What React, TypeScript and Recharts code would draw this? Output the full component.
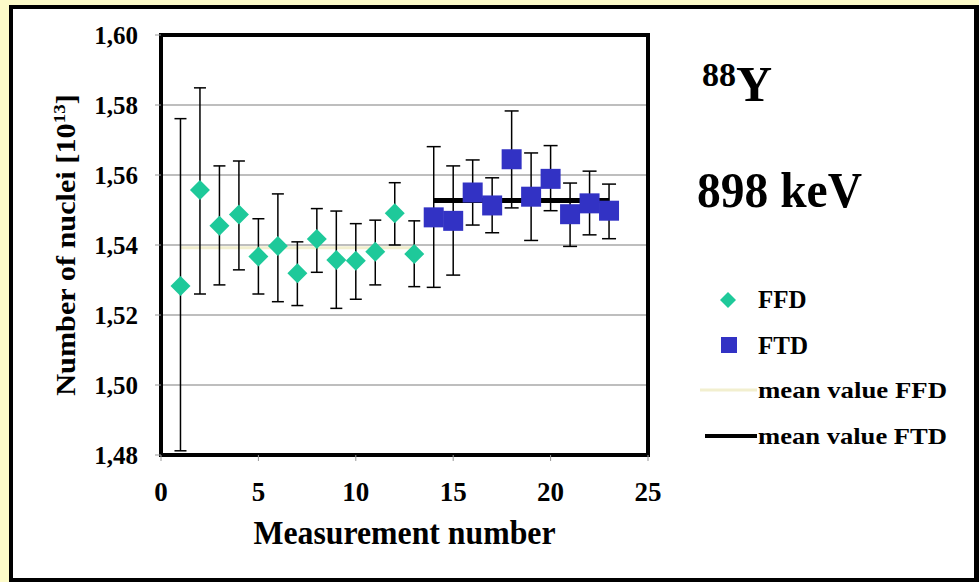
import {
  ComposedChart,
  Scatter,
  Line,
  XAxis,
  YAxis,
  CartesianGrid,
  ErrorBar,
  ReferenceArea,
} from "recharts";

// values
const ffdX = [1, 2, 3, 4, 5, 6, 7, 8, 9, 10, 11, 12, 13];
const ffdValues = [1.5283, 1.5557, 1.5455, 1.5487, 1.5367, 1.5397, 1.5319, 1.5417, 1.5357, 1.5355, 1.5381, 1.5491, 1.5374];
const ffdLow = [1.4812, 1.526, 1.5286, 1.5329, 1.526, 1.5238, 1.5227, 1.5322, 1.5219, 1.5245, 1.5286, 1.54, 1.5281];
const ffdHigh = [1.5761, 1.5849, 1.5626, 1.564, 1.5475, 1.5546, 1.5409, 1.5504, 1.5497, 1.5461, 1.5471, 1.5578, 1.5469];

const ftdX = [14, 15, 16, 17, 18, 19, 20, 21, 22, 23];
const ftdValues = [1.5479, 1.5469, 1.555, 1.5513, 1.5645, 1.5538, 1.5589, 1.5488, 1.5519, 1.5498];
const ftdLow = [1.5279, 1.5314, 1.5457, 1.5435, 1.5506, 1.5413, 1.5498, 1.5396, 1.5429, 1.5418];
const ftdHigh = [1.5681, 1.5626, 1.5643, 1.5592, 1.5783, 1.5663, 1.5684, 1.5577, 1.5611, 1.5574];

const ffdMean = 1.5392;
const ffdMeanX = [1, 13];
const ftdMean = 1.5527;
const ftdMeanX = [14, 23];

const xTicks = [0, 5, 10, 15, 20, 25];
const yTicks = [1.48, 1.5, 1.52, 1.54, 1.56, 1.58, 1.6];

const FONT = '"Liberation Serif", "Times New Roman", serif';
const FFD_COLOR = "#1ec99a";
const FTD_COLOR = "#3232c4";

const ffdData = ffdX.map((x, i) => ({
  x,
  y: ffdValues[i],
  err: [ffdValues[i] - ffdLow[i], ffdHigh[i] - ffdValues[i]],
}));
const ftdData = ftdX.map((x, i) => ({
  x,
  y: ftdValues[i],
  err: [ftdValues[i] - ftdLow[i], ftdHigh[i] - ftdValues[i]],
}));
const ffdMeanData = ffdMeanX.map((x) => ({ x, mean: ffdMean }));
const ftdMeanData = ftdMeanX.map((x) => ({ x, mean: ftdMean }));

const Diamond = (p: any) => {
  const { cx, cy } = p;
  const r = 10;
  return (
    <polygon
      points={`${cx},${cy - r} ${cx + r},${cy} ${cx},${cy + r} ${cx - r},${cy}`}
      fill={FFD_COLOR}
    />
  );
};

const Square = (p: any) => {
  const { cx, cy } = p;
  const s = 10;
  return <rect x={cx - s} y={cy - s} width={2 * s} height={2 * s} fill={FTD_COLOR} />;
};

const YTitle = (props: any) => {
  const { viewBox } = props;
  const cy = viewBox.y + viewBox.height / 2;
  return (
    <text
      transform={`translate(75,${cy}) rotate(-90) scale(1.12,1)`}
      textAnchor="middle"
      fontFamily={FONT}
      fontWeight="bold"
      fontSize={27}
      fill="#000"
    >
      Number of nuclei [10
      <tspan dy={-10} fontSize={17}>13</tspan>
      <tspan dy={10}>]</tspan>
    </text>
  );
};

const XTitle = (props: any) => {
  const { viewBox } = props;
  return (
    <text
      x={viewBox.x + viewBox.width / 2}
      y={viewBox.y + 89}
      textAnchor="middle"
      fontFamily={FONT}
      fontWeight="bold"
      fontSize={33}
      textLength={302}
      lengthAdjust="spacingAndGlyphs"
      fill="#000"
    >
      Measurement number
    </text>
  );
};

function Annotations() {
  const txt = { fontFamily: FONT, fontWeight: "bold", fill: "#000" } as const;
  return (
    <svg
      width={979}
      height={582}
      style={{ position: "absolute", left: 0, top: 0, pointerEvents: "none" }}
    >
      <text x={702} y={86} fontSize={34} {...txt}>88</text>
      <text x={736} y={101} fontSize={50} {...txt}>Y</text>
      <text x={697} y={207} fontSize={50} textLength={165} lengthAdjust="spacingAndGlyphs" {...txt}>
        898 keV
      </text>

      {/* legend */}
      <polygon points="728,292 736,300 728,308 720,300" fill={FFD_COLOR} />
      <text x={758} y={308} fontSize={25} {...txt}>FFD</text>
      <rect x={721} y={337} width={16} height={16} fill={FTD_COLOR} />
      <text x={758} y={354} fontSize={25} {...txt}>FTD</text>
      <line x1={700} y1={390} x2={757} y2={390} stroke="#f2efcf" strokeWidth={3} />
      <text x={758} y={398} fontSize={24} textLength={189} lengthAdjust="spacingAndGlyphs" {...txt}>
        mean value FFD
      </text>
      <line x1={705} y1={436} x2={757} y2={436} stroke="#000" strokeWidth={4} />
      <text x={758} y={444} fontSize={24} textLength={189} lengthAdjust="spacingAndGlyphs" {...txt}>
        mean value FTD
      </text>
    </svg>
  );
}

export default function App() {
  return (
    <div
      style={{
        position: "absolute",
        left: 0,
        top: 0,
        width: 979,
        height: 582,
        background: "#fdfbc9",
        overflow: "hidden",
      }}
    >
      <div
        style={{
          position: "absolute",
          left: 9,
          top: 5,
          right: 0,
          bottom: 0,
          background: "#fff",
          border: "4px solid #000",
          borderRight: "5px solid #000",
        }}
      />
      <div style={{ position: "absolute", left: 0, top: 0 }}>
        <ComposedChart
          width={979}
          height={582}
          margin={{ top: 35, right: 331, bottom: 0, left: 0 }}
        >
          <CartesianGrid vertical={false} stroke="#a8a8a8" strokeWidth={1.5} />
          <XAxis
            type="number"
            dataKey="x"
            domain={[0, 25]}
            ticks={xTicks}
            allowDataOverflow
            axisLine={false}
            tickLine={{ stroke: "#999" }}
            tickSize={6}
            tickMargin={21}
            height={127}
            tick={{ fontFamily: FONT, fontWeight: "bold", fontSize: 27, fill: "#000" }}
            label={<XTitle />}
          />
          <YAxis
            type="number"
            domain={[1.48, 1.6]}
            ticks={yTicks}
            allowDataOverflow
            width={161}
            axisLine={false}
            tickLine={{ stroke: "#999" }}
            tickSize={6}
            tickMargin={17}
            tickFormatter={(v: number) => v.toFixed(2).replace(".", ",")}
            tick={{ fontFamily: FONT, fontWeight: "bold", fontSize: 25, fill: "#000" }}
            label={<YTitle />}
          />
          <Line
            data={ffdMeanData}
            dataKey="mean"
            stroke="#f2efcf"
            strokeWidth={3}
            dot={false}
            isAnimationActive={false}
          />
          <Scatter data={ffdData} dataKey="y" shape={Diamond} isAnimationActive={false}>
            <ErrorBar dataKey="err" direction="y" width={6} stroke="#000" strokeWidth={1.5} />
          </Scatter>
          <Scatter data={ftdData} dataKey="y" shape={Square} isAnimationActive={false}>
            <ErrorBar dataKey="err" direction="y" width={7} stroke="#000" strokeWidth={1.5} />
          </Scatter>
          <Line
            data={ftdMeanData}
            dataKey="mean"
            stroke="#000"
            strokeWidth={5}
            dot={false}
            isAnimationActive={false}
          />
          <ReferenceArea
            x1={0}
            x2={25}
            y1={1.48}
            y2={1.6}
            fill="none"
            fillOpacity={0}
            stroke="#000"
            strokeWidth={4}
            ifOverflow="visible"
          />
        </ComposedChart>
      </div>
      <Annotations />
    </div>
  );
}
